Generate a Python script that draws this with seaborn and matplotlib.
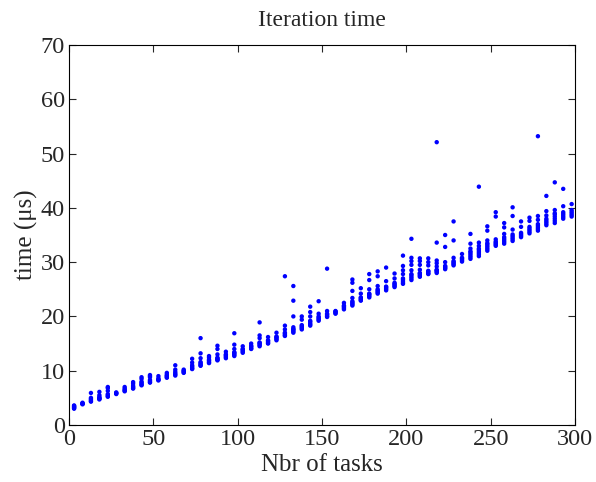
import pandas as pd
import seaborn as sns
import matplotlib.pyplot as plt

# number of tasks for each measured column
tasks = [3, 8, 13, 18, 23, 28, 33, 38, 43, 48,
         53, 58, 63, 68, 73, 78, 83, 88, 93, 98,
         103, 108, 113, 118, 123, 128, 133, 138, 143, 148,
         153, 158, 163, 168, 173, 178, 183, 188, 193, 198,
         203, 208, 213, 218, 223, 228, 233, 238, 243, 248,
         253, 258, 263, 268, 273, 278, 283, 288, 293, 298]

times = [
    [3.0, 3.1, 3.2, 3.3, 3.4, 3.5, 3.6],
    [3.8, 3.9, 3.9, 4.0, 4.1],
    [4.3, 4.4, 4.6, 4.8, 5.0, 5.9],
    [4.7, 4.8, 4.9, 5.0, 5.2, 5.5, 6.1],
    [5.2, 5.3, 5.5, 5.7, 6.3, 6.8, 7.0],
    [5.7, 5.8, 5.9, 6.0],
    [6.2, 6.3, 6.5, 6.7, 7.0],
    [6.7, 6.8, 7.0, 7.2, 7.6, 7.9],
    [7.3, 7.4, 7.6, 7.8, 8.0, 8.5, 8.8],
    [7.8, 7.9, 8.1, 8.3, 8.8, 9.0, 9.2],
    [8.2, 8.3, 8.4, 8.6, 9.0],
    [8.7, 8.8, 9.0, 9.1, 9.3, 9.6],
    [9.1, 9.3, 9.5, 9.8, 10.2, 11.0],
    [9.6, 9.7, 9.9, 10.0, 10.2],
    [10.3, 10.4, 10.6, 10.8, 11.0, 11.5, 12.2],
    [10.9, 11.0, 11.2, 11.4, 11.6, 12.3, 13.2, 16.0],
    [11.4, 11.5, 11.7, 11.9, 12.0, 12.4, 12.7],
    [11.9, 12.0, 12.1, 12.3, 12.4, 13.0, 14.0, 14.6],
    [12.3, 12.5, 12.7, 12.9, 13.0, 13.5],
    [12.7, 12.9, 13.1, 13.3, 13.4, 14.0, 14.8, 16.9],
    [13.3, 13.5, 13.7, 13.9, 14.0, 14.5],
    [14.0, 14.1, 14.3, 14.5, 14.6, 15.0],
    [14.5, 14.7, 14.9, 15.1, 15.2, 16.0, 16.5, 18.9],
    [15.0, 15.1, 15.3, 15.5, 15.6, 16.2],
    [15.6, 15.8, 16.0, 16.2, 16.3, 17.0],
    [16.4, 16.5, 16.7, 16.9, 17.0, 17.6, 18.3, 27.4],
    [17.0, 17.2, 17.4, 17.6, 17.7, 18.0, 20.0, 22.9, 25.6],
    [17.6, 17.8, 18.0, 18.2, 18.4, 19.4, 20.0],
    [18.3, 18.5, 18.7, 19.0, 19.2, 20.0, 20.8, 21.8],
    [19.2, 19.4, 19.6, 19.8, 20.0, 20.5, 22.8],
    [19.9, 20.0, 20.2, 20.4, 20.5, 21.0, 28.8],
    [20.5, 20.6, 20.8, 20.9, 21.0],
    [21.3, 21.5, 21.7, 21.9, 22.0, 22.5],
    [22.0, 22.2, 22.4, 22.6, 22.8, 23.4, 24.7, 26.2, 26.8],
    [22.9, 23.0, 23.2, 23.4, 23.5, 24.2, 25.2],
    [23.5, 23.7, 23.9, 24.1, 24.2, 25.0, 26.7, 27.8],
    [24.2, 24.4, 24.6, 24.8, 25.0, 25.6, 27.4, 28.3],
    [24.8, 25.0, 25.2, 25.4, 25.5, 26.5, 29.0],
    [25.4, 25.6, 25.8, 26.0, 26.2, 27.0, 27.9],
    [26.0, 26.2, 26.5, 26.8, 27.0, 27.8, 28.5, 29.3, 31.2],
    [26.7, 27.0, 27.3, 27.6, 27.8, 28.5, 29.5, 30.2, 30.8, 34.3],
    [27.3, 27.5, 27.7, 27.9, 28.0, 28.6, 29.5, 30.2, 30.7],
    [27.8, 27.9, 28.1, 28.3, 28.4, 29.4, 30.0, 30.7],
    [28.0, 28.2, 28.4, 28.5, 28.6, 29.2, 29.8, 30.3, 33.6, 52.1],
    [28.7, 28.9, 29.0, 29.2, 29.3, 30.0, 32.8, 35.0],
    [29.4, 29.6, 29.8, 30.0, 30.2, 30.8, 34.0, 37.5],
    [30.1, 30.3, 30.5, 30.7, 30.8, 31.5],
    [30.6, 30.9, 31.2, 31.5, 31.8, 32.0, 32.5, 33.4, 35.2],
    [31.1, 31.4, 31.7, 32.0, 32.3, 32.5, 33.0, 33.6, 43.9],
    [32.1, 32.4, 32.7, 33.0, 33.3, 33.5, 34.0, 35.8, 36.6],
    [33.0, 33.2, 33.4, 33.6, 33.8, 34.2, 38.4, 39.2],
    [33.4, 33.7, 34.0, 34.3, 34.6, 35.2, 36.4, 37.2],
    [33.9, 34.2, 34.5, 34.8, 35.1, 36.0, 38.5, 40.1],
    [34.6, 34.8, 35.0, 35.2, 35.4, 36.5, 37.5],
    [35.3, 35.6, 35.9, 36.2, 36.5, 37.6, 38.2],
    [35.8, 36.1, 36.4, 36.7, 37.0, 37.8, 38.5, 53.2],
    [36.8, 37.1, 37.4, 37.7, 38.0, 38.6, 39.4, 42.2],
    [37.2, 37.6, 38.0, 38.4, 38.8, 39.0, 39.6, 44.7],
    [38.0, 38.3, 38.6, 38.9, 39.2, 40.3, 43.5],
    [38.4, 38.7, 39.0, 39.3, 39.6, 40.7],
]

xticks = [0, 50, 100, 150, 200, 250, 300]
yticks = [0, 10, 20, 30, 40, 50, 60, 70]

df = pd.DataFrame({'tasks': tasks, 'time': times}).explode('time')
df['time'] = df['time'].astype(float)

sns.set_style('ticks')
plt.rcParams['font.family'] = ['Liberation Serif', 'DejaVu Serif']

fig = plt.figure(figsize=(5.96, 4.82), dpi=100)
ax = fig.add_axes([0.1158, 0.1183, 0.849, 0.7883])

sns.scatterplot(data=df, x='tasks', y='time', ax=ax, color='#0000ff',
                s=10, linewidth=0, edgecolor='none', legend=False)

ax.set_xlim(0, 300)
ax.set_ylim(0, 70)
ax.set_xticks(xticks)
ax.set_yticks(yticks)
ax.tick_params(direction='in', top=True, right=True, labelsize=17.5, length=5,
               width=0.8, pad=3)
for s in ax.spines.values():
    s.set_visible(True)
    s.set_linewidth(0.8)
    s.set_color('black')

ax.set_xlabel('Nbr of tasks', fontsize=18, labelpad=3)
ax.set_ylabel('time (μs)', fontsize=18, labelpad=2)
ax.set_title('Iteration time', fontsize=17, pad=14)

fig.savefig('out.png', dpi=100)
